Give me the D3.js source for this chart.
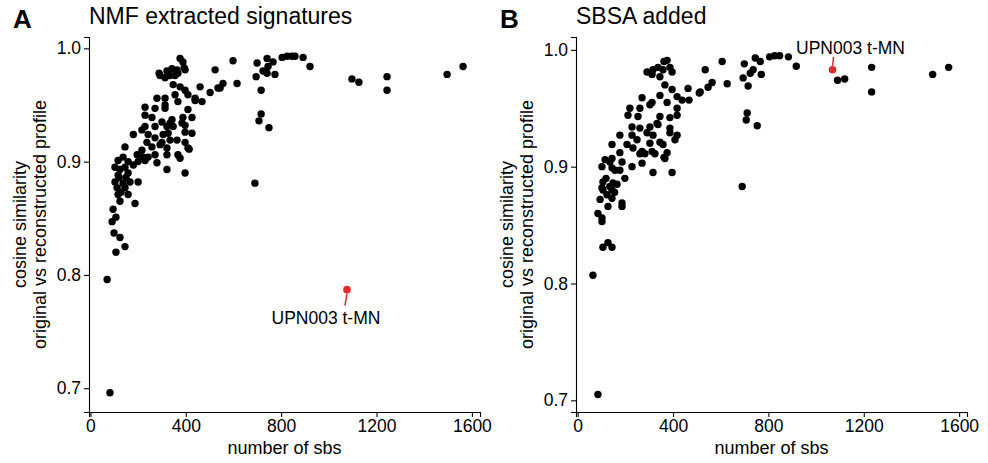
<!DOCTYPE html>
<html>
<head>
<meta charset="utf-8">
<script src="https://cdn.jsdelivr.net/npm/d3@7"></script>
<style>
  body { margin: 0; background: #fff; }
  svg text { font-family: "Liberation Sans", Arial, Helvetica, sans-serif; fill: #000; }
</style>
</head>
<body>
<div id="chart"></div>
<script>
const width = 988;
const height = 463;

// panel titles
const panelLetters = ["A", "B"];
const panelTitles = ["NMF extracted signatures", "SBSA added"];
const xTitle = "number of sbs";
const yTitle = ["cosine similarity", "original vs reconstructed profile"];
const xTicks = [0, 400, 800, 1200, 1600];
const yTicks = [0.7, 0.8, 0.9, 1.0];

const highlightName = "UPN003 t-MN";
const nmfHighlight = [1076, 0.787];
const sbsaHighlight = [1069, 0.983];

// [number of sbs, cosine similarity] per sample, NMF extracted signatures
const nmfPoints = [
  [376,0.991],[393,0.983],[363,0.981],[342,0.982],[321,0.980],[288,0.978],[313,0.974],[355,0.976],
  [367,0.978],[397,0.981],[523,0.981],[598,0.989],[347,0.968],[376,0.966],[397,0.963],[409,0.959],
  [439,0.956],[468,0.953],[460,0.966],[502,0.961],[535,0.965],[556,0.969],[615,0.969],[544,0.965],
  [439,0.954],[279,0.956],[313,0.956],[355,0.959],[367,0.953],[313,0.950],[229,0.948],[271,0.947],
  [313,0.947],[409,0.946],[426,0.939],[388,0.939],[229,0.941],[258,0.939],[342,0.937],[334,0.934],
  [384,0.934],[300,0.935],[229,0.931],[216,0.928],[271,0.931],[321,0.931],[347,0.931],[397,0.932],
  [397,0.926],[426,0.925],[326,0.925],[305,0.924],[242,0.924],[180,0.924],[237,0.917],[271,0.921],
  [300,0.917],[334,0.919],[363,0.919],[397,0.917],[292,0.915],[258,0.913],[216,0.910],[145,0.913],
  [321,0.912],[409,0.912],[196,0.906],[221,0.904],[271,0.906],[321,0.906],[367,0.906],[376,0.903],
  [137,0.904],[116,0.901],[158,0.900],[200,0.900],[229,0.901],[279,0.899],[103,0.895],[145,0.895],
  [180,0.897],[321,0.893],[397,0.890],[158,0.890],[116,0.888],[200,0.882],[137,0.881],[103,0.882],
  [112,0.877],[145,0.877],[116,0.871],[158,0.871],[124,0.865],[187,0.863],[242,0.904],[95,0.858],
  [107,0.851],[91,0.847],[99,0.837],[124,0.833],[145,0.825],[107,0.820],[70,0.796],[82,0.696],
  [414,0.911],[699,0.987],[741,0.991],[766,0.988],[745,0.984],[724,0.980],[741,0.978],[695,0.975],
  [774,0.977],[716,0.963],[716,0.942],[707,0.936],[749,0.930],[804,0.992],[825,0.993],[845,0.993],
  [858,0.993],[892,0.992],[921,0.984],[1097,0.973],[1126,0.970],[1244,0.975],[1244,0.963],
  [1496,0.977],[1563,0.984],[690,0.881],[124,0.893],[149,0.886],[128,0.873],[166,0.882],[120,0.886],
  [388,0.988],[334,0.976],[292,0.976]
];

// [number of sbs, cosine similarity] per sample, SBSA added
const sbsaPoints = [
  [375,0.991],[387,0.985],[358,0.983],[337,0.985],[316,0.983],[291,0.981],[312,0.979],[345,0.977],
  [366,0.970],[396,0.966],[417,0.960],[438,0.957],[463,0.967],[510,0.963],[535,0.983],[547,0.968],
  [564,0.972],[514,0.964],[627,0.971],[606,0.990],[467,0.957],[270,0.959],[312,0.955],[345,0.961],
  [375,0.955],[219,0.950],[261,0.950],[303,0.953],[417,0.950],[211,0.944],[253,0.943],[345,0.943],
  [333,0.937],[387,0.942],[417,0.944],[228,0.934],[261,0.933],[303,0.934],[337,0.936],[387,0.933],
  [177,0.927],[228,0.927],[291,0.929],[316,0.927],[387,0.929],[417,0.927],[249,0.923],[303,0.920],
  [345,0.921],[358,0.919],[408,0.923],[144,0.919],[207,0.919],[232,0.916],[270,0.913],[312,0.913],
  [177,0.912],[261,0.911],[282,0.911],[324,0.911],[375,0.912],[366,0.907],[115,0.906],[144,0.907],
  [186,0.904],[228,0.900],[270,0.903],[102,0.900],[144,0.899],[177,0.897],[316,0.895],[396,0.895],
  [198,0.890],[106,0.887],[148,0.886],[102,0.882],[144,0.880],[123,0.876],[94,0.872],[144,0.873],
  [186,0.869],[135,0.904],[156,0.897],[135,0.883],[127,0.866],[186,0.866],[85,0.860],[102,0.856],
  [102,0.853],[106,0.831],[127,0.835],[144,0.831],[64,0.807],[85,0.705],[699,0.988],[745,0.993],
  [766,0.990],[736,0.983],[724,0.980],[694,0.976],[770,0.979],[715,0.969],[711,0.946],[707,0.940],
  [753,0.935],[805,0.994],[826,0.995],[847,0.995],[884,0.994],[917,0.986],[1090,0.974],[1120,0.975],
  [1233,0.985],[1233,0.964],[1489,0.979],[1556,0.985],[690,0.883],[362,0.908],[106,0.880],
  [119,0.890],[165,0.885],[155,0.878],[362,0.990],[396,0.981]
];

const svg = d3.select("#chart").append("svg")
    .attr("width", width)
    .attr("height", height);

function drawPanel(opts) {
    const x = d3.scaleLinear().domain(opts.xDomain).range([opts.left, opts.right]);
    const y = d3.scaleLinear().domain(opts.yDomain).range([opts.bottom, opts.top]);
    const g = svg.append("g");

    // panel letter + title
    g.append("text")
        .attr("x", opts.left - 76).attr("y", 28)
        .style("font-size", "26px").style("font-weight", "bold")
        .text(opts.letter);
    g.append("text")
        .attr("x", opts.left).attr("y", 24)
        .style("font-size", "23px")
        .text(opts.title);

    // axes
    const xAxis = g.append("g")
        .attr("transform", `translate(0,${opts.bottom})`)
        .call(d3.axisBottom(x).tickValues(xTicks).tickFormat(d3.format("d")).tickSizeOuter(0).tickSize(5).tickPadding(3));
    const yAxis = g.append("g")
        .attr("transform", `translate(${opts.left},0)`)
        .call(d3.axisLeft(y).tickValues(yTicks).tickFormat(d3.format(".1f")).tickSizeOuter(0).tickSize(5).tickPadding(3));
    [xAxis, yAxis].forEach(a => {
        a.select(".domain").attr("stroke", "#000").attr("stroke-width", 1.1);
        a.selectAll(".tick line").attr("stroke", "#000").attr("stroke-width", 1.1);
        a.selectAll(".tick text")
            .style("font-size", "17.5px")
            .style("font-family", '"Liberation Sans", Arial, sans-serif')
            .attr("fill", "#1a1a1a");
    });

    // axis titles
    g.append("text")
        .attr("x", (opts.left + opts.right) / 2).attr("y", 454)
        .attr("text-anchor", "middle")
        .style("font-size", "18px")
        .text(xTitle);
    const cy = (opts.top + opts.bottom) / 2;
    yTitle.forEach((t, i) => {
        g.append("text")
            .attr("transform", `translate(${opts.left - 63 + i * 20},${cy}) rotate(-90)`)
            .attr("text-anchor", "middle")
            .style("font-size", "18px")
            .text(t);
    });

    // points
    g.append("g").selectAll("circle")
        .data(opts.points)
        .enter().append("circle")
        .attr("cx", d => x(d[0]))
        .attr("cy", d => y(d[1]))
        .attr("r", 3.7)
        .attr("fill", "#000");

    // highlighted sample with label
    const hx = x(opts.highlight[0]), hy = y(opts.highlight[1]);
    g.append("line")
        .attr("x1", hx).attr("y1", hy + opts.seg[0])
        .attr("x2", hx + opts.seg[2]).attr("y2", hy + opts.seg[1])
        .attr("stroke", "#e5282a").attr("stroke-width", 1.5);
    g.append("circle")
        .attr("cx", hx).attr("cy", hy).attr("r", 3.8)
        .attr("fill", "#e5282a");
    g.append("text")
        .attr("x", hx + opts.labelOffset[0]).attr("y", hy + opts.labelOffset[1])
        .attr("text-anchor", "middle")
        .style("font-size", "17.5px")
        .text(highlightName);
}

drawPanel({
    letter: panelLetters[0], title: panelTitles[0], points: nmfPoints, highlight: nmfHighlight,
    xDomain: [-6, 1634], yDomain: [0.679, 1.010],
    left: 89, right: 480, top: 37, bottom: 412,
    seg: [4, 16, -2], labelOffset: [-21, 34]
});
drawPanel({
    letter: panelLetters[1], title: panelTitles[1], points: sbsaPoints, highlight: sbsaHighlight,
    xDomain: [-7, 1633], yDomain: [0.690, 1.011],
    left: 576, right: 967, top: 37, bottom: 412,
    seg: [-4, -13, 1], labelOffset: [18, -16]
});
</script>
</body>
</html>
